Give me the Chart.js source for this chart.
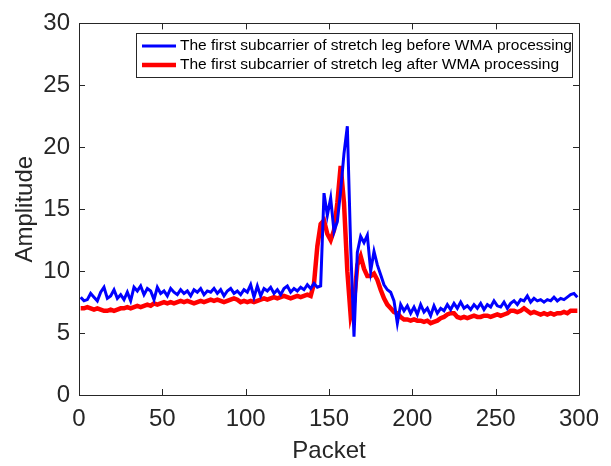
<!DOCTYPE html>
<html>
<head>
<meta charset="utf-8">
<script src="https://cdn.jsdelivr.net/npm/chart.js@4.4.1/dist/chart.umd.min.js"></script>
<style>
  html, body { margin: 0; padding: 0; background: #fff; }
  #wrap { width: 611px; height: 466px; }
</style>
</head>
<body>
<div id="wrap"><canvas id="myChart" width="611" height="466"></canvas></div>
<script>
// packet index: 1, 3, 5 ... 299
var packets = [];
for (var p = 1; p < 300; p += 2) packets.push(p);

var beforeWMA = [
  7.9, 7.6, 7.7, 8.2, 7.9, 7.6, 8.3, 8.7, 7.8, 8.0,
  8.5, 7.8, 8.1, 7.7, 8.3, 7.6, 8.7, 8.4, 8.8, 8.1,
  8.6, 8.4, 7.7, 8.7, 8.2, 8.4, 8.0, 8.6, 8.3, 8.1,
  8.5, 8.2, 8.4, 8.0, 8.5, 8.3, 8.6, 8.1, 8.4, 8.3,
  8.6, 8.2, 8.5, 8.0, 8.4, 8.6, 8.2, 8.4, 8.1, 8.5,
  8.3, 8.9, 7.9, 8.8, 8.0, 8.6, 8.4, 8.7, 8.2, 8.5,
  8.1, 8.6, 8.8, 8.3, 8.6, 8.4, 8.7, 8.5, 8.9, 8.6,
  9.0, 8.7, 8.8, 16.3, 14.5, 15.9, 13.2, 14.0, 16.5, 19.5,
  21.7, 12.0, 4.7, 11.5, 12.8, 12.3, 12.9, 10.0, 11.6, 10.5,
  9.7, 8.9, 8.5, 8.3, 7.6, 5.8, 7.3, 6.8, 7.2, 6.6,
  7.1, 6.5, 7.3, 6.7, 7.0, 6.4, 7.2, 6.6, 7.0, 6.8,
  7.3, 6.9, 7.4, 7.0, 7.5, 7.0, 7.2, 6.9, 7.3, 7.0,
  7.4, 6.9, 7.3, 7.1, 7.6, 7.2, 7.1, 7.5, 7.0, 7.4,
  7.6, 7.3, 7.7, 7.6, 8.0, 7.5, 7.8, 7.6, 7.7, 7.5,
  7.7, 7.6, 7.9, 7.6, 7.8, 7.7, 7.9, 8.1, 8.2, 7.9
];

var afterWMA = [
  7.0, 7.0, 7.1, 7.0, 6.9, 7.0, 6.9, 6.8, 6.8, 6.9,
  6.8, 6.9, 7.0, 7.0, 7.1, 7.0, 7.1, 7.2, 7.1, 7.2,
  7.3, 7.2, 7.4, 7.3, 7.4, 7.5, 7.4, 7.5, 7.4, 7.5,
  7.6, 7.5, 7.6, 7.5, 7.4, 7.5, 7.6, 7.5, 7.6, 7.7,
  7.6, 7.7, 7.6, 7.5, 7.6, 7.7, 7.8, 7.7, 7.5, 7.6,
  7.5, 7.6, 7.5, 7.6, 7.7, 7.8, 7.7, 7.8, 7.9, 7.8,
  7.9, 8.0, 7.9, 7.8, 7.9, 8.0, 7.9, 8.0, 8.1, 8.0,
  9.0, 12.0, 13.8, 14.1, 13.0, 12.5, 13.3, 15.5, 18.5, 15.5,
  10.0, 6.4, 7.5, 10.5, 11.2, 10.2, 9.6, 9.6, 9.8, 9.3,
  8.5, 7.8, 7.3, 7.0, 6.7, 6.6, 6.3, 6.1, 6.1, 6.0,
  6.1, 6.0, 6.0, 5.9, 6.0, 5.8, 5.9, 6.0, 6.2, 6.3,
  6.5, 6.6, 6.6, 6.3, 6.2, 6.3, 6.2, 6.3, 6.4, 6.3,
  6.3, 6.4, 6.4, 6.3, 6.4, 6.5, 6.4, 6.5, 6.6, 6.8,
  6.8, 6.7, 6.8, 7.0, 6.8, 6.6, 6.7, 6.6, 6.5, 6.6,
  6.5, 6.6, 6.5, 6.6, 6.6, 6.7, 6.6, 6.8, 6.8, 6.8
];

var seriesNames = [
  "The first subcarrier of stretch leg before WMA processing",
  "The first subcarrier of stretch leg after WMA processing"
];
var xTicks = [0, 50, 100, 150, 200, 250, 300];
var yTicks = [0, 5, 10, 15, 20, 25, 30];

var axisColor = "#262626";
var fontFamily = "'Liberation Sans', Arial, Helvetica, sans-serif";

function toPoints(vals) {
  return vals.map(function (v, i) { return { x: packets[i], y: v }; });
}

// box around the axes with inward ticks on all four sides, plus the legend
var matlabFrame = {
  id: "matlabFrame",
  afterDatasetsDraw: function (chart) {
    var ctx = chart.ctx, a = chart.chartArea;
    var xs = chart.scales.x, ys = chart.scales.y;
    var tl = 6;
    ctx.save();
    ctx.strokeStyle = axisColor;
    ctx.lineWidth = 1;
    ctx.beginPath();
    ctx.rect(Math.round(a.left) + 0.5, Math.round(a.top) + 0.5,
             Math.round(a.right - a.left), Math.round(a.bottom - a.top));
    xTicks.forEach(function (t) {
      var px = Math.round(xs.getPixelForValue(t)) + 0.5;
      ctx.moveTo(px, a.bottom); ctx.lineTo(px, a.bottom - tl);
      ctx.moveTo(px, a.top); ctx.lineTo(px, a.top + tl);
    });
    yTicks.forEach(function (t) {
      var py = Math.round(ys.getPixelForValue(t)) + 0.5;
      ctx.moveTo(a.left, py); ctx.lineTo(a.left + tl, py);
      ctx.moveTo(a.right, py); ctx.lineTo(a.right - tl, py);
    });
    ctx.stroke();

    // legend
    var bx = 136.5, by = 33.5, bw = 436, bh = 44;
    ctx.fillStyle = "#fff";
    ctx.fillRect(bx, by, bw, bh);
    ctx.strokeRect(bx, by, bw, bh);
    ctx.font = "15.5px " + fontFamily;
    ctx.textBaseline = "middle";
    ctx.textAlign = "left";
    var rows = [46, 65];
    chart.data.datasets.forEach(function (ds, i) {
      ctx.strokeStyle = ds.borderColor;
      ctx.lineWidth = i === 0 ? 3 : 4.5;
      ctx.beginPath();
      ctx.moveTo(142, rows[i]); ctx.lineTo(176, rows[i]);
      ctx.stroke();
      ctx.fillStyle = "#000";
      ctx.fillText(ds.label, 180, rows[i]);
    });
    ctx.restore();
  }
};

var ctx_live = document.getElementById("myChart");

var myChart = new Chart(ctx_live, {
  type: "line",
  data: {
    datasets: [{
      label: seriesNames[0],
      data: toPoints(beforeWMA),
      borderColor: "#0000ff",
      borderWidth: 3,
      pointRadius: 0,
      tension: 0
    }, {
      label: seriesNames[1],
      data: toPoints(afterWMA),
      borderColor: "#ff0000",
      borderWidth: 4.5,
      pointRadius: 0,
      tension: 0
    }]
  },
  options: {
    responsive: false,
    animation: false,
    layout: { autoPadding: false, padding: { top: 18, right: 32, left: 0, bottom: 0 } },
    plugins: {
      legend: { display: false },
      tooltip: { enabled: false }
    },
    scales: {
      x: {
        type: "linear",
        min: 0, max: 300,
        afterFit: function (s) { s.height = 71; },
        afterBuildTicks: function (s) { s.ticks = xTicks.map(function (v) { return { value: v }; }); },
        grid: { display: false, drawTicks: false },
        border: { display: false },
        ticks: { color: axisColor, padding: 10, maxRotation: 0, font: { size: 24, family: fontFamily } },
        title: { display: true, text: "Packet", color: axisColor, padding: { top: 0, bottom: 0 }, font: { size: 24, family: fontFamily } }
      },
      y: {
        min: 0, max: 30,
        afterFit: function (s) { s.width = 79; },
        afterBuildTicks: function (s) { s.ticks = yTicks.map(function (v) { return { value: v }; }); },
        grid: { display: false, drawTicks: false },
        border: { display: false },
        ticks: { color: axisColor, padding: 9, font: { size: 24, family: fontFamily } },
        title: { display: true, text: "Amplitude", color: axisColor, padding: { top: 11, bottom: 11 }, font: { size: 24, family: fontFamily } }
      }
    }
  },
  plugins: [matlabFrame]
});
</script>
</body>
</html>
